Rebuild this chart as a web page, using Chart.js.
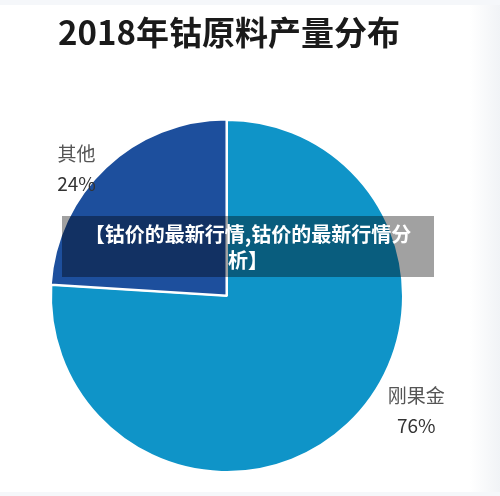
<!DOCTYPE html>
<html>
<head>
<meta charset="utf-8">
<script src="https://cdn.jsdelivr.net/npm/chart.js@4/dist/chart.umd.min.js"></script>
<style>
  html, body { margin: 0; padding: 0; background: #ffffff; }
  #wrap { position: relative; width: 500px; height: 496px; }
  #pieChart { position: absolute; left: 0; top: 0; }
  #banner {
    position: absolute; left: 62px; top: 216px; width: 372px; height: 61px;
    background: rgba(0, 0, 0, 0.37); color: #fff;
    font: bold 20px "Noto Sans CJK SC", sans-serif; line-height: 26px;
    text-align: center; box-sizing: border-box; padding: 5px 16px 0;
  }
</style>
</head>
<body>
<div id="wrap">
  <canvas id="pieChart" width="500" height="496"></canvas>
  <div id="banner">【钴价的最新行情,钴价的最新行情分析】</div>
</div>
<script>
// 2018年钴原料产量分布
const titleText = "2018年钴原料产量分布";
const categories = ["刚果金", "其他"];
const shares = [76, 24];
const sliceColors = ["#0f94c8", "#1d4f9d"];

// ラベルの位置（半径に対する比率）
const labelDirs = [[1.075, 0.655], [-0.855, -0.725]];

const textPlugin = {
  id: "textPlugin",
  beforeDraw(chart) {
    const c = chart.ctx;
    c.save();
    c.fillStyle = "#f5f7fa";
    c.fillRect(0, 0, chart.width, chart.height);
    c.fillStyle = "#ffffff";
    c.fillRect(0, 5, 470, 487);
    const g = c.createLinearGradient(470, 0, 500, 0);
    g.addColorStop(0, "#ffffff");
    g.addColorStop(1, "#f1f3f6");
    c.fillStyle = g;
    c.fillRect(470, 5, 30, 487);
    c.restore();
  },
  afterDraw(chart) {
    const c = chart.ctx;
    c.save();
    c.fillStyle = "#1a1a1a";
    c.font = 'bold 33px "Noto Sans CJK SC", sans-serif';
    c.textBaseline = "middle";
    c.textAlign = "left";
    c.fillText(titleText, 58, 32);

    const meta = chart.getDatasetMeta(0);
    c.textAlign = "center";
    meta.data.forEach((arc, i) => {
      const r = arc.outerRadius;
      const x = arc.x + labelDirs[i][0] * r;
      const y = arc.y + labelDirs[i][1] * r;
      c.font = '19px "Noto Sans CJK SC", sans-serif';
      c.fillStyle = "#555555";
      c.fillText(categories[i], x, y - 15);
      c.fillStyle = "#333333";
      c.fillText(shares[i] + "%", x, y + 15);
    });
    c.restore();
  },
};

new Chart(document.getElementById("pieChart"), {
  type: "pie",
  data: {
    labels: categories,
    datasets: [
      {
        data: shares,
        backgroundColor: sliceColors,
        borderColor: "#ffffff",
        borderWidth: 2,
        offset: [0, 3],
        radius: 176,
      },
    ],
  },
  options: {
    responsive: false,
    animation: false,
    layout: { padding: { top: 96, right: 46, left: 0, bottom: 0 } },
    plugins: {
      legend: { display: false },
      tooltip: { enabled: false },
    },
  },
  plugins: [textPlugin],
});
</script>
</body>
</html>
